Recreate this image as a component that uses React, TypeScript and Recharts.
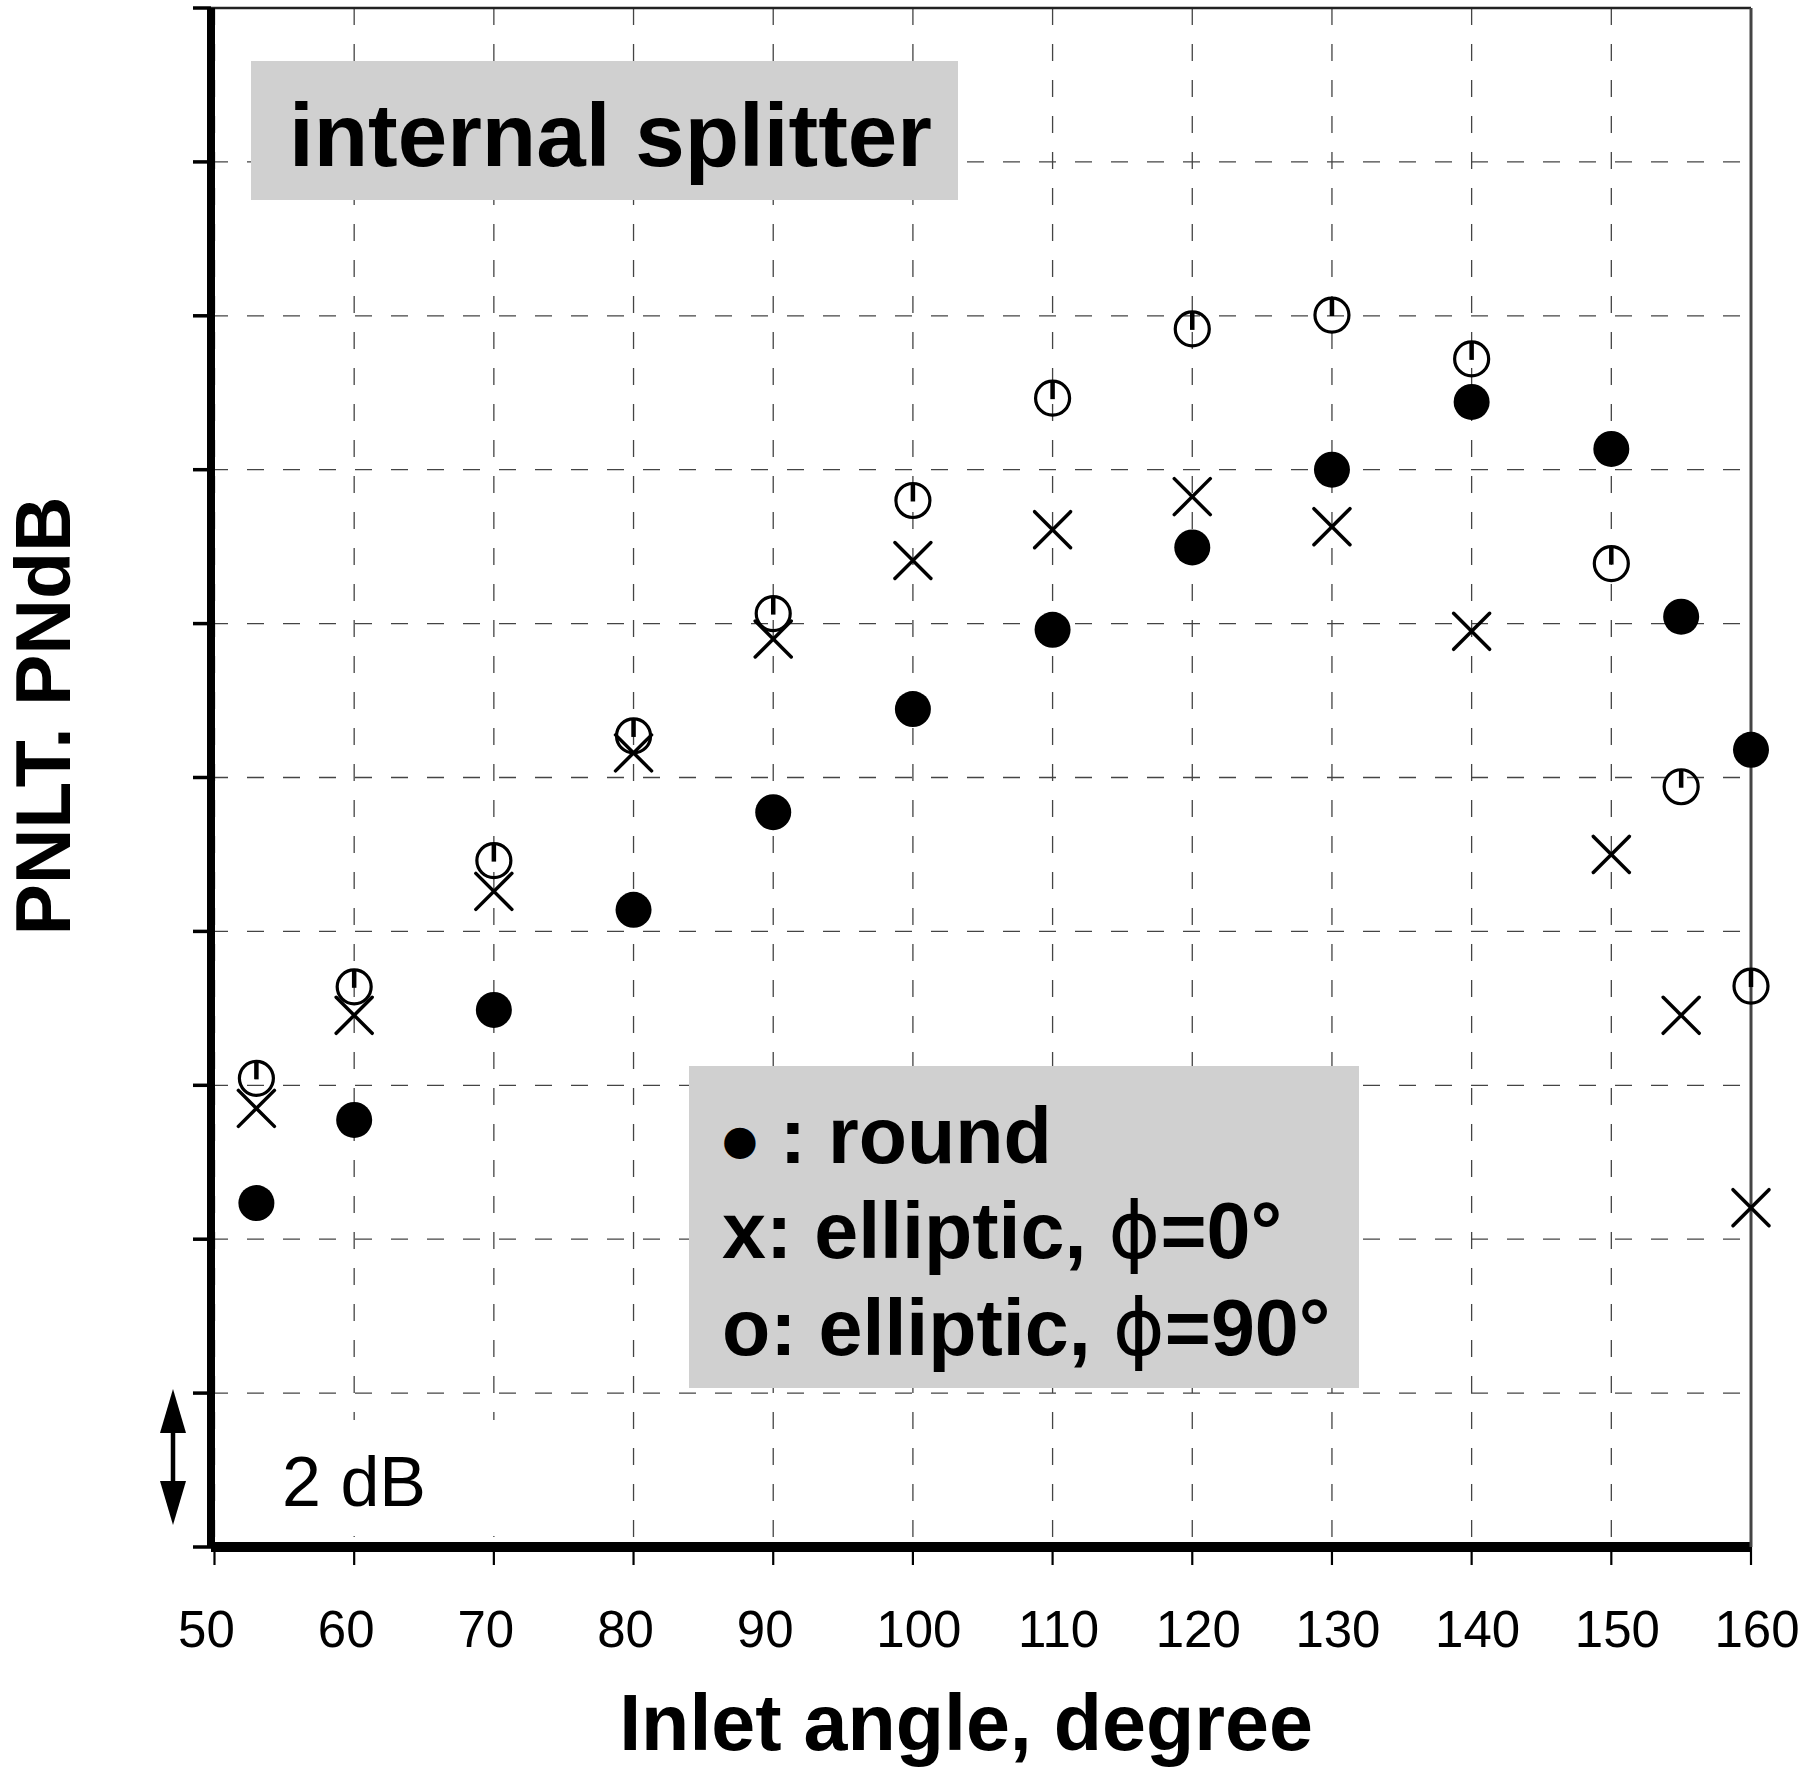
import React from 'react';
import { ScatterChart, Scatter, XAxis, YAxis, CartesianGrid, ReferenceLine } from 'recharts';

const angles = [53, 60, 70, 80, 90, 100, 110, 120, 130, 140, 150, 155, 160];
const roundPNLT = [4.47, 5.55, 6.98, 8.28, 9.55, 10.89, 11.92, 12.99, 14.0, 14.88, 14.27, 12.09, 10.36];
const ellipticPhi0 = [5.7, 6.91, 8.52, 10.32, 11.8, 12.82, 13.22, 13.65, 13.26, 11.9, 9.0, 6.91, 4.41];
const ellipticPhi90 = [6.09, 7.28, 8.92, 10.54, 12.13, 13.6, 14.93, 15.83, 16.01, 15.44, 12.78, 9.88, 7.29];
const xTicks = [50, 60, 70, 80, 90, 100, 110, 120, 130, 140, 150, 160];
const yTicks = [0, 2, 4, 6, 8, 10, 12, 14, 16, 18, 20];
const xDomain = [49.75, 160];
const yDomain = [0, 20];

const FONT = '"Liberation Sans", Arial, Helvetica, sans-serif';

const toPoints = (vals: number[]) => angles.map((x, i) => ({ x, y: vals[i] }));
const roundData = toPoints(roundPNLT);
const phi0Data = toPoints(ellipticPhi0);
const phi90Data = toPoints(ellipticPhi90);

const FilledDot = (p: any) => <circle cx={p.cx} cy={p.cy} r={18} fill="#000" />;

const CrossMark = (p: any) => {
  const s = 18;
  return (
    <g stroke="#000" strokeWidth={3.5} strokeLinecap="round">
      <line x1={p.cx - s} y1={p.cy - s} x2={p.cx + s} y2={p.cy + s} />
      <line x1={p.cx - s} y1={p.cy + s} x2={p.cx + s} y2={p.cy - s} />
    </g>
  );
};

const OpenDot = (p: any) => (
  <g>
    <circle cx={p.cx} cy={p.cy} r={17} fill="none" stroke="#000" strokeWidth={3.2} />
    <line x1={p.cx} y1={p.cy - 17} x2={p.cx} y2={p.cy + 1} stroke="#000" strokeWidth={4.5} />
  </g>
);

const XTick = (p: any) => {
  const v = p.payload.value;
  const dx = String(v).length >= 3 ? 6 : -8;
  return (
    <text x={p.x + dx} y={p.y + 82} textAnchor="middle" fontFamily={FONT} fontSize={51} fill="#000">
      {v}
    </text>
  );
};

const EmptyTick = () => <g />;

export default function App() {
  return (
    <div style={{ position: 'absolute', left: 0, top: 0, width: 1804, height: 1774, background: '#fff' }}>
      <ScatterChart width={1804} height={1774} margin={{ top: 0, right: 0, bottom: 0, left: 111 }}>
        <CartesianGrid stroke="#444" strokeWidth={1.3} strokeDasharray="17 19" />
        <XAxis
          type="number"
          dataKey="x"
          domain={xDomain}
          ticks={xTicks}
          height={227}
          tickSize={18}
          tickMargin={0}
          tick={<XTick />}
          stroke="#000"
          axisLine={{ stroke: '#000', strokeWidth: 10 }}
          tickLine={{ stroke: '#000', strokeWidth: 2.2 }}
        />
        <XAxis
          xAxisId="top"
          orientation="top"
          type="number"
          dataKey="x"
          domain={xDomain}
          ticks={xTicks}
          height={8}
          tick={false}
          tickLine={false}
          axisLine={{ stroke: '#222', strokeWidth: 2.5 }}
        />
        <YAxis
          type="number"
          dataKey="y"
          domain={yDomain}
          ticks={yTicks}
          width={100}
          tickSize={18}
          tick={<EmptyTick />}
          stroke="#000"
          axisLine={{ stroke: '#000', strokeWidth: 8 }}
          tickLine={{ stroke: '#000', strokeWidth: 3.5 }}
        />
        <YAxis
          yAxisId="right"
          orientation="right"
          type="number"
          dataKey="y"
          domain={yDomain}
          ticks={yTicks}
          width={53}
          tick={false}
          tickLine={false}
          axisLine={{ stroke: '#444', strokeWidth: 3 }}
        />
        <ReferenceLine y={yDomain[0]} stroke="#000" strokeWidth={10} />
        <ReferenceLine x={xDomain[0]} stroke="#000" strokeWidth={8} />
        <Scatter name="round" data={roundData} shape={FilledDot} isAnimationActive={false} />
        <Scatter name="elliptic phi=90" data={phi90Data} shape={OpenDot} isAnimationActive={false} />
        <Scatter name="elliptic phi=0" data={phi0Data} shape={CrossMark} isAnimationActive={false} />
      </ScatterChart>
      <svg
        width={1804}
        height={1774}
        style={{ position: 'absolute', left: 0, top: 0, pointerEvents: 'none' }}
      >
        <rect x={251} y={61} width={707} height={139} fill="#d0d0d0" />
        <text x={289} y={166} fontFamily={FONT} fontWeight="bold" fontSize={89} fill="#000">
          internal splitter
        </text>

        <rect x={689} y={1066} width={670} height={322} fill="#d0d0d0" />
        <g fontFamily={FONT} fontWeight="bold" fontSize={79} fill="#000">
          <text x={722} y={1163}>
            <tspan fontFamily='"DejaVu Sans", sans-serif' fontSize={41} dy={-9}>●</tspan>
            <tspan dy={9}> : round</tspan>
          </text>
          <text x={722} y={1258}>
            x: elliptic, <tspan fontFamily='"DejaVu Sans", sans-serif' fontWeight="normal">ϕ</tspan>=0°
          </text>
          <text x={722} y={1355}>
            o: elliptic, <tspan fontFamily='"DejaVu Sans", sans-serif' fontWeight="normal">ϕ</tspan>=90°
          </text>
        </g>

        <rect x={218} y={1420} width={344} height={116} fill="#fff" />
        <text x={282} y={1506} fontFamily={FONT} fontSize={70} fill="#000">
          2 dB
        </text>
        <line x1={173} y1={1420} x2={173} y2={1494} stroke="#000" strokeWidth={4.5} />
        <polygon points="173,1389 160,1433 186,1433" fill="#000" />
        <polygon points="173,1525 160,1481 186,1481" fill="#000" />

        <text x={966} y={1750} textAnchor="middle" fontFamily={FONT} fontWeight="bold" fontSize={79} fill="#000">
          Inlet angle, degree
        </text>
        <text
          transform="translate(70,716) rotate(-90)"
          textAnchor="middle"
          fontFamily={FONT}
          fontWeight="bold"
          fontSize={77}
          fill="#000"
        >
          PNLT. PNdB
        </text>
      </svg>
    </div>
  );
}
